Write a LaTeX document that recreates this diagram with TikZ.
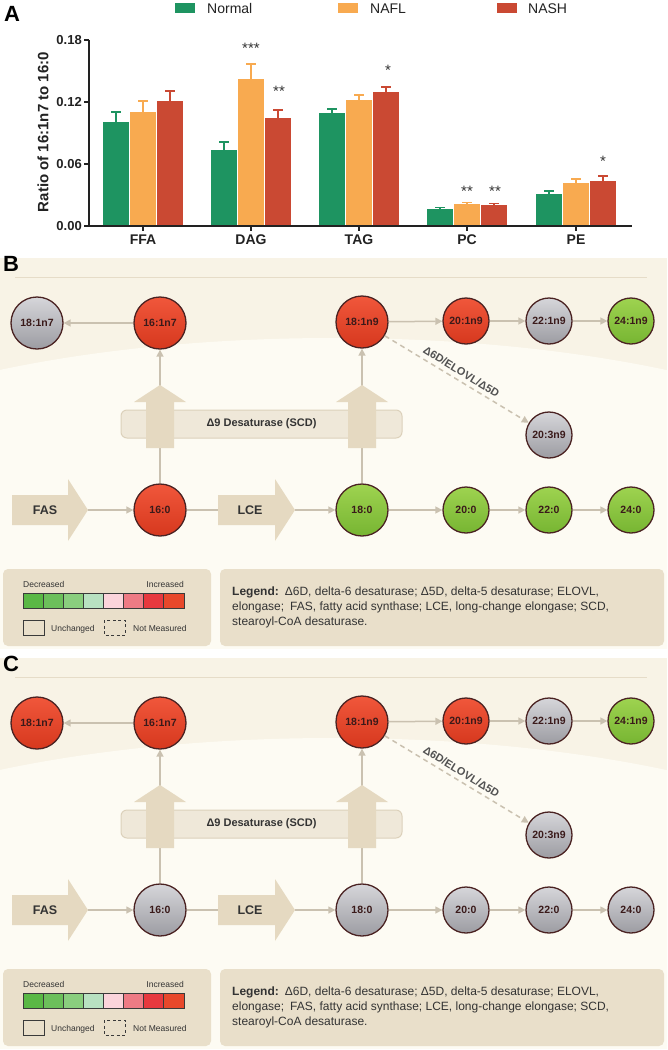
\documentclass[tikz,border=0pt]{standalone}
\usepackage{fontspec}
\setmainfont{Liberation Sans}
\usetikzlibrary{arrows.meta}
\definecolor{cNormal}{HTML}{1E9461}
\definecolor{cNAFL}{HTML}{F8AA50}
\definecolor{cNASH}{HTML}{CA4933}
\definecolor{axisc}{HTML}{222222}
\definecolor{panelbg}{HTML}{F8F3E6}
\definecolor{panellight}{HTML}{FDFBF3}
\definecolor{hlinec}{HTML}{E6DCC8}
\definecolor{beige}{HTML}{E5D9C1}
\definecolor{boxfill}{HTML}{EFE8D9}
\definecolor{boxline}{HTML}{DCD1BB}
\definecolor{legfill}{HTML}{E9DFCA}
\definecolor{connc}{HTML}{CAC1B0}
\definecolor{ringc}{HTML}{4A2222}
\definecolor{fatext}{HTML}{3A1A1A}
\definecolor{darktext}{HTML}{333333}
\definecolor{Tred}{HTML}{F0573B}\definecolor{Bred}{HTML}{D6381E}
\definecolor{Tgry}{HTML}{D6D6DA}\definecolor{Bgry}{HTML}{9C9CA2}
\definecolor{Tgrn}{HTML}{9ED350}\definecolor{Bgrn}{HTML}{77B532}
\definecolor{cb1}{HTML}{5AB845}\definecolor{cb2}{HTML}{6CBF5B}
\definecolor{cb3}{HTML}{8ACE7E}\definecolor{cb4}{HTML}{B8E1C1}
\definecolor{cb5}{HTML}{FBD4DB}\definecolor{cb6}{HTML}{EE7B85}
\definecolor{cb7}{HTML}{E7393F}\definecolor{cb8}{HTML}{E8482B}
\definecolor{cbline}{HTML}{3A3A3A}
\tikzset{
  fa/.style={circle, draw=ringc, line width=1.3pt, inner sep=0pt,
    font=\fontsize{10.5}{12}\selectfont\bfseries, text=fatext},
  conn/.style={draw=connc, line width=1.5pt, -{Triangle[length=7pt,width=7pt]}},
  connplain/.style={draw=connc, line width=1.5pt},
  bigarrow/.style={fill=beige},
  arrowlab/.style={font=\fontsize{12.5}{14}\selectfont\bfseries, text=darktext, inner sep=0pt},
  desatbox/.style={rounded corners=6pt, fill=boxfill, draw=boxline, line width=1pt,
    minimum width=281pt, minimum height=28pt, inner sep=0pt,
    font=\fontsize{11}{13}\selectfont\bfseries, text=darktext},
  dlabel/.style={font=\fontsize{11}{13}\selectfont\bfseries, text=darktext!85, inner sep=1pt},
  legbox/.style={rounded corners=5pt, fill=legfill, inner sep=0pt},
  smalltxt/.style={font=\fontsize{8.5}{10}\selectfont, text=darktext, inner sep=0pt},
  legtext/.style={font=\fontsize{12}{15}\selectfont, text=darktext, inner sep=0pt, align=left},
  panellab/.style={font=\fontsize{22}{24}\selectfont\bfseries, text=black, inner sep=0pt},
  axis/.style={draw=axisc, line width=1.6pt},
  ticklab/.style={font=\fontsize{13}{15}\selectfont\bfseries, text=axisc, inner sep=0pt},
  catlab/.style={font=\fontsize{14}{16}\selectfont\bfseries, text=axisc, inner sep=0pt},
  starlab/.style={font=\fontsize{15}{16}\selectfont, text=darktext, inner sep=0pt},
  leglab/.style={font=\fontsize{14}{16}\selectfont, text=axisc, inner sep=0pt}
}
\newcommand\fabar[4]{%
  \fill[#4] (#1,#2) rectangle ({#1+26},226);
  \draw[#4, line width=1.2pt] ({#1+13},#2) -- ({#1+13},#3) ({#1+8},#3) -- ({#1+18},#3);
}
\newcommand\bigup[1]{%
  \fill[bigarrow, shift={(#1,0)}] (-14,448) -- (-14,402) -- (-26,402) -- (0,385)
     -- (26,402) -- (14,402) -- (14,448) -- cycle;
}
\newcommand\fapanel[4]{%
\begin{scope}[shift={(0,#2)}]
  \fill[panelbg] (0,258) rectangle (667,648);
  \begin{scope}
    \clip (0,258) rectangle (667,648);
    \fill[panellight] (333,528) ellipse [x radius=600, y radius=190];
  \end{scope}
  \draw[hlinec, line width=1pt] (15,277) -- (647,277);
  \node[panellab, anchor=base west] (#1lab) at (3,271) {#3};
  \node[desatbox] (#1desat) at (261.5,424) {Δ9 Desaturase (SCD)};
  \foreach \nm/\x/\y/\rr/\lab/\col in {#4}{%
    \node[fa, minimum size=\rr pt, top color=T\col, bottom color=B\col] (#1\nm) at (\x,\y) {\lab};}
  \coordinate (#1fastip) at (88,510);
  \coordinate (#1lcetail) at (218,510);
  \coordinate (#1lcetip) at (295,510);
  % connectors
  \draw[conn] (#1b) -- (#1a);
  \draw[conn] (#1c) -- (#1d);
  \draw[conn] (#1d) -- (#1e);
  \draw[conn] (#1e) -- (#1f);
  \draw[conn, dash pattern=on 5pt off 4pt] (#1c) -- node[dlabel, sloped, above=3pt] (#1dl) {Δ6D/ELOVL/Δ5D} (#1g);
  \draw[conn] (#1h) -- (#1b);
  \draw[conn] (#1i) -- (#1c);
  \draw[conn] (#1fastip) -- (#1h);
  \draw[connplain] (#1h) -- (#1lcetail);
  \draw[conn] (#1lcetip) -- (#1i);
  \draw[conn] (#1i) -- (#1j);
  \draw[conn] (#1j) -- (#1k);
  \draw[conn] (#1k) -- (#1l);
  % big arrows
  \bigup{160}
  \bigup{362}
  \fill[bigarrow] (12,495) -- (68,495) -- (68,479) -- (88,510) -- (68,541) -- (68,525) -- (12,525) -- cycle;
  \fill[bigarrow] (218,495) -- (275,495) -- (275,479) -- (295,510) -- (275,541) -- (275,525) -- (218,525) -- cycle;
  \node[arrowlab] (#1fas) at (45,510) {FAS};
  \node[arrowlab] (#1lce) at (250,510) {LCE};
  % legends
  \node[legbox, minimum width=208pt, minimum height=77pt] (#1legA) at (107,607.5) {};
  \node[legbox, minimum width=444pt, minimum height=77pt] (#1legB) at (442,607.5) {};
  \node[smalltxt, anchor=base west] (#1dec) at (23,587.5) {Decreased};
  \node[smalltxt, anchor=base east] (#1inc) at (184,587.5) {Increased};
  \foreach \i/\cc in {0/cb1,1/cb2,2/cb3,3/cb4,4/cb5,5/cb6,6/cb7,7/cb8}{%
    \filldraw[fill=\cc, draw=cbline, line width=0.8pt] ({23+\i*20.125},593) rectangle ({23+(\i+1)*20.125},608);}
  \draw[cbline, line width=0.8pt] (23,620) rectangle (44,635);
  \node[smalltxt, anchor=base west] (#1unch) at (51,631) {Unchanged};
  \draw[cbline, line width=0.8pt, dash pattern=on 3pt off 2.5pt] (104,620) rectangle (125,635);
  \node[smalltxt, anchor=base west] (#1notm) at (133,631) {Not Measured};
  \node[legtext, anchor=north west] (#1legtxt) at (232,587) {\textbf{Legend:}\enspace Δ6D, delta-6 desaturase; Δ5D, delta-5 desaturase; ELOVL,\\elongase;\enspace FAS, fatty acid synthase; LCE, long-change elongase; SCD,\\stearoyl-CoA desaturase.};
\end{scope}}
\begin{document}
\begin{tikzpicture}[x=1pt,y=-1pt]
\useasboundingbox (0,0) rectangle (667,1050);
\fill[white] (0,0) rectangle (667,1050);
% ---------- Panel A ----------
\node[panellab, anchor=base west] (labA) at (4,21) {A};
\fill[cNormal] (175,3) rectangle (195,13);
\node[leglab, anchor=base west] (lnormal) at (207,13) {Normal};
\fill[cNAFL] (338,3) rectangle (358,13);
\node[leglab, anchor=base west] (lnafl) at (370,13) {NAFL};
\fill[cNASH] (497,3) rectangle (517,13);
\node[leglab, anchor=base west] (lnash) at (528,13) {NASH};
% bars
\fabar{103}{122}{112}{cNormal}
\fabar{130}{112}{101}{cNAFL}
\fabar{157}{101}{91}{cNASH}
\fabar{211}{150}{142}{cNormal}
\fabar{238}{79}{64}{cNAFL}
\fabar{265}{118}{110}{cNASH}
\fabar{319}{113}{109}{cNormal}
\fabar{346}{100}{95}{cNAFL}
\fabar{373}{92}{87}{cNASH}
\fabar{427}{209}{207.5}{cNormal}
\fabar{454}{204}{202.5}{cNAFL}
\fabar{481}{205}{203.5}{cNASH}
\fabar{536}{194}{191}{cNormal}
\fabar{563}{183}{179}{cNAFL}
\fabar{590}{181}{176}{cNASH}
% axes
\draw[axis] (89,40) -- (89,226) -- (632,226);
\foreach \yy/\lab in {40/0.18,102/0.12,164/0.06,226/0.00}{%
  \draw[axis] (84,\yy) -- (89,\yy);
  \node[ticklab, anchor=east] (yt\yy) at (82,\yy) {\lab};}
\foreach \cx/\lab in {143/FFA,251/DAG,359/TAG,467/PC,576/PE}{%
  \draw[axis] (\cx,226) -- (\cx,231);
  \node[catlab, anchor=base] (x\lab) at (\cx,244) {\lab};}
\node[ticklab, font=\fontsize{15}{17}\selectfont\bfseries, rotate=90] (ylab) at (43,132) {Ratio of 16:1n7 to 16:0};
% stars
\node[starlab, anchor=base] (s1) at (251,53) {***};
\node[starlab, anchor=base] (s2) at (279,96) {**};
\node[starlab, anchor=base] (s3) at (388,75) {*};
\node[starlab, anchor=base] (s4) at (467,196) {**};
\node[starlab, anchor=base] (s5) at (495,196) {**};
\node[starlab, anchor=base] (s6) at (603,166) {*};
% ---------- Panels B and C ----------
\fapanel{B}{0}{B}{a/37/323/52/18:1n7/gry, b/160/323/52/16:1n7/red, c/362/322/52/18:1n9/red, d/466/321/46/20:1n9/red, e/549/321/46/22:1n9/gry, f/631/321/46/24:1n9/grn, g/549/435/46/20:3n9/gry, h/160/510/52/16:0/red, i/362/510/52/18:0/grn, j/466/510/46/20:0/grn, k/549/510/46/22:0/grn, l/631/510/46/24:0/grn}
\fapanel{C}{400}{C}{a/37/323/52/18:1n7/red, b/160/323/52/16:1n7/red, c/362/322/52/18:1n9/red, d/466/321/46/20:1n9/red, e/549/321/46/22:1n9/gry, f/631/321/46/24:1n9/grn, g/549/435/46/20:3n9/gry, h/160/510/52/16:0/gry, i/362/510/52/18:0/gry, j/466/510/46/20:0/gry, k/549/510/46/22:0/gry, l/631/510/46/24:0/gry}
\end{tikzpicture}
\end{document}
